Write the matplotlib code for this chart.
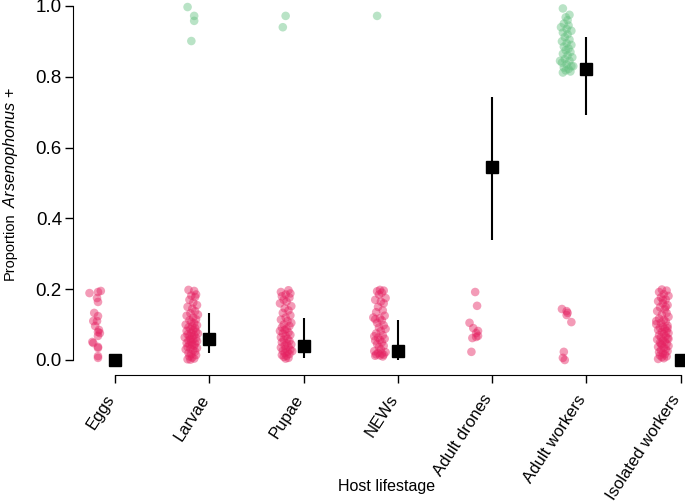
import numpy as np
import matplotlib
matplotlib.use('Agg')
import matplotlib.pyplot as plt

plt.rcParams['font.family'] = ['Liberation Sans', 'DejaVu Sans']
plt.rcParams['mathtext.fontset'] = 'custom'
plt.rcParams['mathtext.it'] = 'Liberation Sans:italic'
plt.rcParams['mathtext.rm'] = 'Liberation Sans'

stages = ['Eggs', 'Larvae', 'Pupae', 'NEWs', 'Adult drones', 'Adult workers', 'Isolated workers']

# proportion positive and 95% CI
means = [0.0, 0.059, 0.040, 0.025, 0.545, 0.822, 0.0]
ci_low = [0.0, 0.020, 0.006, 0.001, 0.339, 0.692, 0.0]
ci_high = [0.0, 0.133, 0.119, 0.113, 0.743, 0.912, 0.0]

# individual samples (jittered): negatives plotted 0-0.2, positives 0.8-1.0
eggs_neg_y = [0.189, 0.192, 0.195, 0.175, 0.164, 0.133, 0.124, 0.110, 0.110, 0.096,
              0.085, 0.079, 0.076, 0.068, 0.051, 0.048, 0.037, 0.034, 0.011, 0.006]
eggs_neg_x = [-0.27, -0.18, -0.15, -0.19, -0.18, -0.22, -0.18, -0.23, -0.19, -0.21,
              -0.17, -0.18, -0.16, -0.18, -0.24, -0.23, -0.18, -0.18, -0.18, -0.18]

larvae_neg_y = [0.198, 0.195, 0.185, 0.182, 0.178, 0.170, 0.162, 0.155, 0.150, 0.145,
                0.138, 0.132, 0.128, 0.125, 0.120, 0.115, 0.112, 0.108, 0.104, 0.100,
                0.098, 0.095, 0.092, 0.090, 0.087, 0.084, 0.082, 0.080, 0.077, 0.075,
                0.072, 0.070, 0.068, 0.066, 0.064, 0.062, 0.060, 0.058, 0.055, 0.053,
                0.050, 0.048, 0.046, 0.044, 0.042, 0.040, 0.037, 0.034, 0.032, 0.030,
                0.027, 0.024, 0.020, 0.017, 0.014, 0.010, 0.007, 0.004, 0.002, 0.001]
larvae_neg_x = [-0.22, -0.16, -0.14, -0.19, -0.15, -0.21, -0.17, -0.13, -0.23, -0.18,
                -0.15, -0.20, -0.12, -0.24, -0.17, -0.14, -0.21, -0.19, -0.16, -0.25,
                -0.13, -0.18, -0.22, -0.15, -0.20, -0.17, -0.24, -0.14, -0.19, -0.12,
                -0.23, -0.16, -0.21, -0.18, -0.26, -0.14, -0.20, -0.17, -0.22, -0.13,
                -0.19, -0.24, -0.15, -0.21, -0.18, -0.16, -0.23, -0.13, -0.20, -0.25,
                -0.17, -0.15, -0.22, -0.19, -0.14, -0.21, -0.18, -0.16, -0.23, -0.20]
larvae_pos_y = [0.997, 0.972, 0.958, 0.901]
larvae_pos_x = [-0.23, -0.16, -0.16, -0.19]

pupae_neg_y = [0.197, 0.192, 0.188, 0.185, 0.180, 0.176, 0.170, 0.165, 0.160, 0.152,
               0.146, 0.140, 0.133, 0.126, 0.120, 0.114, 0.110, 0.105, 0.100, 0.096,
               0.092, 0.088, 0.085, 0.082, 0.078, 0.075, 0.071, 0.068, 0.064, 0.060,
               0.057, 0.054, 0.050, 0.047, 0.044, 0.041, 0.038, 0.035, 0.032, 0.029,
               0.026, 0.023, 0.020, 0.017, 0.014, 0.012, 0.009, 0.006, 0.004, 0.025]
pupae_neg_x = [-0.16, -0.24, -0.14, -0.19, -0.23, -0.15, -0.21, -0.18, -0.25, -0.13,
               -0.20, -0.16, -0.22, -0.14, -0.19, -0.24, -0.17, -0.13, -0.21, -0.15,
               -0.23, -0.18, -0.20, -0.25, -0.16, -0.22, -0.14, -0.19, -0.24, -0.17,
               -0.21, -0.15, -0.23, -0.18, -0.13, -0.20, -0.16, -0.24, -0.19, -0.14,
               -0.22, -0.17, -0.20, -0.15, -0.23, -0.18, -0.21, -0.16, -0.19, -0.12]
pupae_pos_y = [0.972, 0.940]
pupae_pos_x = [-0.19, -0.22]

news_neg_y = [0.198, 0.196, 0.194, 0.190, 0.185, 0.175, 0.170, 0.165, 0.160, 0.150,
              0.140, 0.135, 0.125, 0.120, 0.118, 0.115, 0.112, 0.105, 0.098, 0.092,
              0.088, 0.082, 0.075, 0.070, 0.067, 0.063, 0.060, 0.057, 0.055, 0.050,
              0.045, 0.040, 0.036, 0.030, 0.025, 0.022, 0.020, 0.018, 0.016, 0.015,
              0.013, 0.012, 0.010]
news_neg_x = [-0.19, -0.15, -0.22, -0.17, -0.20, -0.13, -0.24, -0.18, -0.15, -0.21,
              -0.16, -0.23, -0.14, -0.26, -0.19, -0.24, -0.17, -0.22, -0.15, -0.20,
              -0.13, -0.18, -0.23, -0.16, -0.25, -0.21, -0.14, -0.19, -0.24, -0.17,
              -0.22, -0.15, -0.20, -0.18, -0.25, -0.13, -0.21, -0.17, -0.23, -0.15,
              -0.19, -0.24, -0.16]
news_pos_y = [0.972]
news_pos_x = [-0.22]

drones_neg_y = [0.192, 0.153, 0.105, 0.090, 0.082, 0.076, 0.068, 0.062, 0.065, 0.023]
drones_neg_x = [-0.18, -0.16, -0.24, -0.20, -0.15, -0.17, -0.15, -0.21, -0.17, -0.22]

workers_neg_y = [0.144, 0.138, 0.133, 0.127, 0.107, 0.023, 0.006, 0.000]
workers_neg_x = [-0.26, -0.21, -0.20, -0.21, -0.16, -0.24, -0.25, -0.23]
workers_pos_y = [0.993, 0.975, 0.968, 0.960, 0.950, 0.945, 0.940, 0.935, 0.930, 0.925,
                 0.920, 0.912, 0.905, 0.900, 0.895, 0.890, 0.885, 0.880, 0.875, 0.870,
                 0.865, 0.860, 0.855, 0.850, 0.845, 0.840, 0.835, 0.830, 0.826, 0.822,
                 0.818, 0.815, 0.812, 0.830, 0.845]
workers_pos_x = [-0.25, -0.18, -0.22, -0.20, -0.24, -0.19, -0.27, -0.21, -0.16, -0.25,
                 -0.20, -0.23, -0.18, -0.26, -0.21, -0.16, -0.24, -0.19, -0.22, -0.17,
                 -0.25, -0.20, -0.15, -0.23, -0.18, -0.26, -0.21, -0.16, -0.24, -0.19,
                 -0.22, -0.17, -0.25, -0.14, -0.28]

isolated_neg_y = [0.199, 0.196, 0.192, 0.186, 0.181, 0.177, 0.171, 0.166, 0.160, 0.155,
                  0.149, 0.143, 0.138, 0.133, 0.128, 0.122, 0.117, 0.113, 0.109, 0.105,
                  0.101, 0.097, 0.094, 0.091, 0.088, 0.085, 0.082, 0.079, 0.076, 0.073,
                  0.070, 0.067, 0.064, 0.061, 0.058, 0.055, 0.052, 0.049, 0.046, 0.043,
                  0.040, 0.037, 0.034, 0.031, 0.028, 0.025, 0.022, 0.019, 0.016, 0.013,
                  0.010, 0.008, 0.005, 0.003, 0.060, 0.110, 0.150, 0.090, 0.045, 0.170]
isolated_neg_x = [-0.20, -0.15, -0.23, -0.18, -0.13, -0.21, -0.16, -0.24, -0.19, -0.14,
                  -0.22, -0.17, -0.25, -0.15, -0.20, -0.13, -0.23, -0.18, -0.16, -0.21,
                  -0.26, -0.14, -0.19, -0.22, -0.17, -0.24, -0.15, -0.20, -0.13, -0.18,
                  -0.23, -0.16, -0.21, -0.14, -0.25, -0.19, -0.17, -0.22, -0.15, -0.20,
                  -0.13, -0.24, -0.18, -0.16, -0.21, -0.14, -0.23, -0.19, -0.17, -0.22,
                  -0.15, -0.20, -0.18, -0.24, -0.13, -0.26, -0.16, -0.14, -0.21, -0.19]

neg_y = [eggs_neg_y, larvae_neg_y, pupae_neg_y, news_neg_y, drones_neg_y, workers_neg_y, isolated_neg_y]
neg_x = [eggs_neg_x, larvae_neg_x, pupae_neg_x, news_neg_x, drones_neg_x, workers_neg_x, isolated_neg_x]
pos_y = [[], larvae_pos_y, pupae_pos_y, news_pos_y, [], workers_pos_y, []]
pos_x = [[], larvae_pos_x, pupae_pos_x, news_pos_x, [], workers_pos_x, []]

pink = '#E52161'
green = '#65C181'

fig = plt.figure(figsize=(6.85, 5.03), dpi=100)
ax = fig.add_axes([73 / 685, 128 / 503, 612 / 685, 375 / 503])

for i in range(len(stages)):
    ax.scatter(i + np.asarray(neg_x[i]), neg_y[i], s=38, color=pink, alpha=0.45,
               edgecolors='none', clip_on=False, zorder=2)
    if len(pos_y[i]) > 0:
        ax.scatter(i + np.asarray(pos_x[i]), pos_y[i], s=38, color=green, alpha=0.45,
                   edgecolors='none', clip_on=False, zorder=2)

xpos = np.arange(len(stages))
means = np.asarray(means)
yerr = [means - np.asarray(ci_low), np.asarray(ci_high) - means]
ax.errorbar(xpos, means, yerr=yerr, fmt='s', color='black', ms=8, elinewidth=1.5,
            capsize=0, clip_on=False, zorder=3)

ax.set_xlim(-0.445, 6.045)
ax.set_ylim(-0.0424, 1.0169)
ax.set_xticks(xpos)
ax.set_xticklabels(stages, rotation=57, ha='right', va='baseline', rotation_mode='anchor',
                   fontsize=12)
ax.set_yticks([0, 0.2, 0.4, 0.6, 0.8, 1.0])
ax.set_yticklabels(['0.0', '0.2', '0.4', '0.6', '0.8', '1.0'], fontsize=13.5)
ax.tick_params(axis='both', length=6, width=1, direction='out')
ax.tick_params(axis='x', pad=11)
ax.tick_params(axis='y', pad=2)

for s in ['top', 'right']:
    ax.spines[s].set_visible(False)
ax.spines['left'].set_bounds(0, 1)
ax.spines['bottom'].set_bounds(0, 6)
ax.patch.set_alpha(0)

fig.text(387 / 685, 16 / 503, 'Host lifestage', ha='center', va='center', fontsize=11.5)
fig.text(10 / 685, 1 - 246 / 503, 'Proportion', rotation=90, ha='center', va='center', fontsize=10.5)
fig.text(11 / 685, 1 - 148 / 503, r'$\mathit{Arsenophonus}$ +', rotation=90, ha='center',
         va='center', fontsize=11.7)

fig.savefig('out.png', dpi=100)
